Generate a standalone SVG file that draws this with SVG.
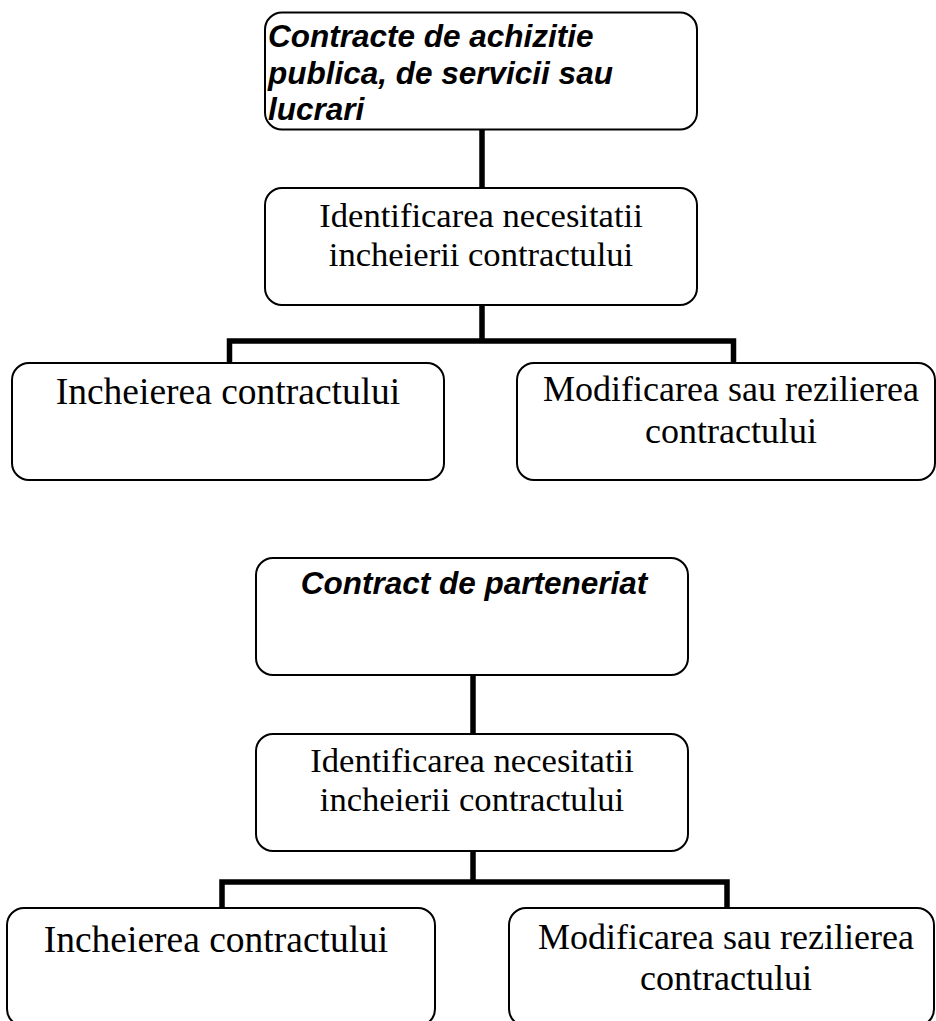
<svg xmlns="http://www.w3.org/2000/svg" width="936" height="1021" viewBox="0 0 936 1021">
<style>
.box{fill:#fff;stroke:#000;stroke-width:2}
.hd{font-family:"Liberation Sans",Arial,sans-serif;font-weight:bold;font-style:italic;font-size:31.5px;fill:#000}
.tx{font-family:"Liberation Serif","Times New Roman",serif;font-size:36px;fill:#000;text-anchor:middle}
.sm{font-size:34.6px}
.lg{font-size:37.5px}
.con{fill:none;stroke:#000;stroke-width:5.5}
</style>
<rect width="936" height="1021" fill="#fff"/>
<g id="connectors">
<path class="con" d="M482,130 V188"/>
<path class="con" d="M482,305 V341 M229.5,363 V341 H733.5 V363"/>
<path class="con" d="M473,675 V734"/>
<path class="con" d="M473,851 V882 M222,908 V882 H727 V908"/>
</g>
<g id="n1">
<rect class="box" x="265" y="12.5" width="432" height="117" rx="17"/>
<text class="hd" x="268" y="47">Contracte de achizitie</text>
<text class="hd" x="268" y="83.5">publica, de servicii sau</text>
<text class="hd" x="268" y="120">lucrari</text>
</g>
<g id="n2">
<rect class="box" x="265" y="188" width="432" height="117" rx="17"/>
<text class="tx sm" x="481" y="227">Identificarea necesitatii</text>
<text class="tx sm" x="481" y="266">incheierii contractului</text>
</g>
<g id="n3">
<rect class="box" x="12" y="363" width="432" height="117" rx="17"/>
<text class="tx lg" x="228" y="404">Incheierea contractului</text>
</g>
<g id="n4">
<rect class="box" x="517" y="363" width="418" height="117" rx="17"/>
<text class="tx" x="731" y="401">Modificarea sau rezilierea</text>
<text class="tx" x="731" y="443">contractului</text>
</g>
<g id="n5">
<rect class="box" x="256" y="558" width="432" height="117" rx="17"/>
<text class="hd" x="474" y="594" text-anchor="middle">Contract de parteneriat</text>
</g>
<g id="n6">
<rect class="box" x="256" y="734" width="432" height="117" rx="17"/>
<text class="tx sm" x="472" y="772">Identificarea necesitatii</text>
<text class="tx sm" x="472" y="811">incheierii contractului</text>
</g>
<g id="n7">
<rect class="box" x="7" y="908" width="428" height="118" rx="17"/>
<text class="tx lg" x="216" y="952">Incheierea contractului</text>
</g>
<g id="n8">
<rect class="box" x="509" y="908" width="425" height="118" rx="17"/>
<text class="tx" x="726" y="949">Modificarea sau rezilierea</text>
<text class="tx" x="726" y="990">contractului</text>
</g>
</svg>
